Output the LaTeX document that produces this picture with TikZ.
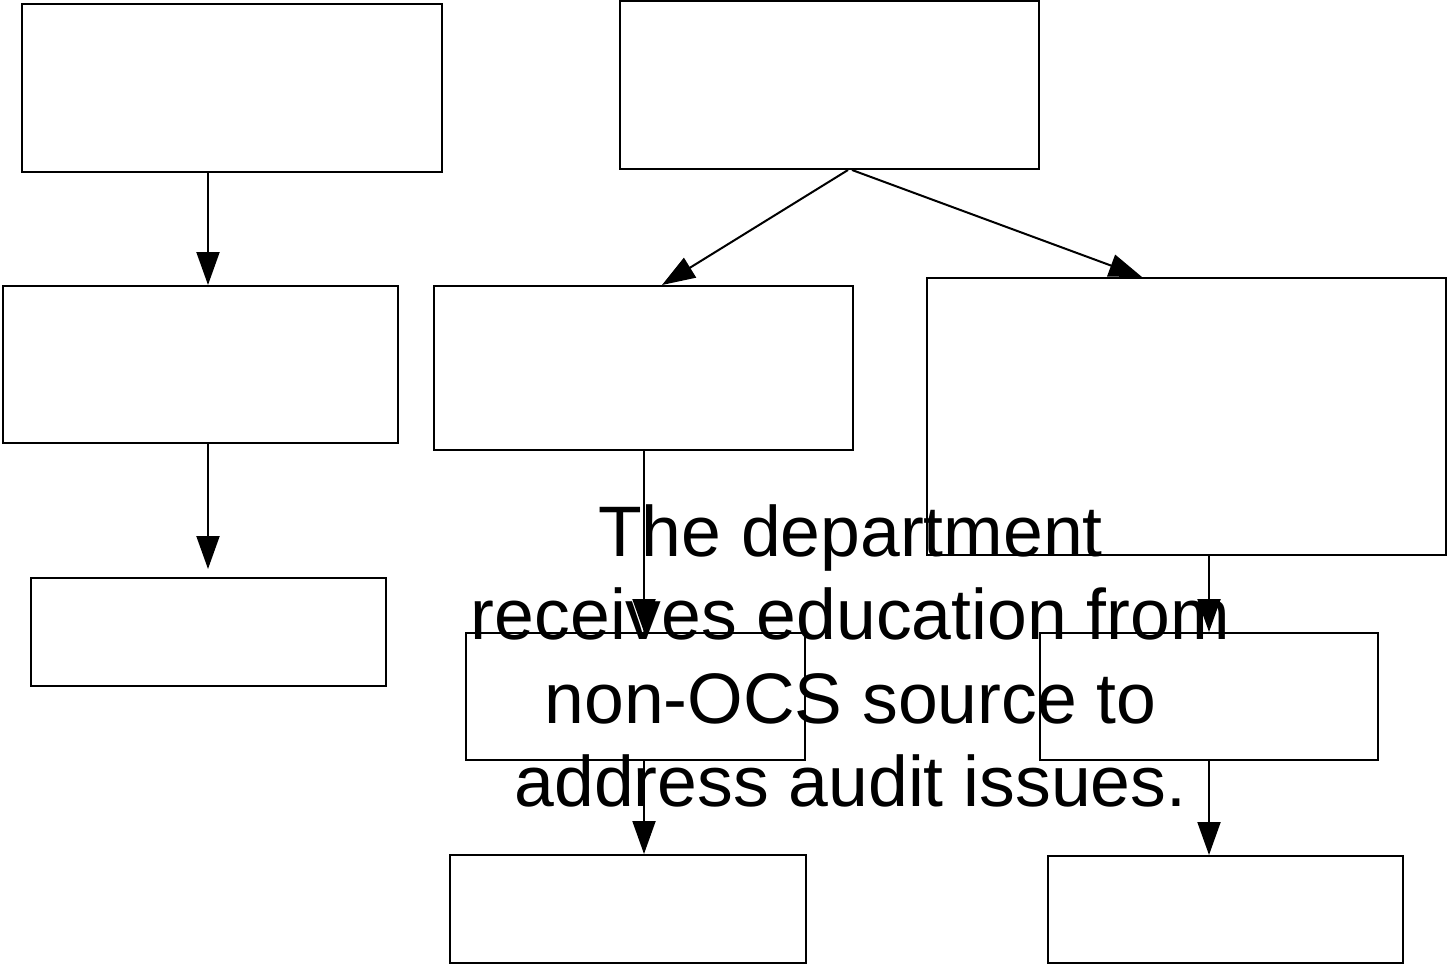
\documentclass[tikz,border=0pt]{standalone}
\usepackage{fontspec}
\setmainfont{Liberation Sans}
\usetikzlibrary{arrows.meta}
\begin{document}
\begin{tikzpicture}[x=1pt,y=-1pt,
  box/.style={draw=black, line width=2pt, rectangle, inner sep=0pt},
  arr/.style={draw=black, line width=2pt, -{Triangle[length=33pt,width=23pt]}},
  bigtext/.style={font=\fontsize{71.5}{83.5}\selectfont, align=center, inner sep=0pt}]
\useasboundingbox (0,0) rectangle (1447,969);
% boxes
\node[box, minimum width=420pt, minimum height=168pt] (b1) at (232,88) {};
\node[box, minimum width=419pt, minimum height=168pt] (b2) at (829.5,85) {};
\node[box, minimum width=395pt, minimum height=157pt] (b3) at (200.5,364.5) {};
\node[box, minimum width=419pt, minimum height=164pt] (b4) at (643.5,368) {};
\node[box, minimum width=519pt, minimum height=277pt] (b5) at (1186.5,416.5) {};
\node[box, minimum width=355pt, minimum height=108pt] (b6) at (208.5,632) {};
\node[box, minimum width=339pt, minimum height=127pt] (b7) at (635.5,696.5) {};
\node[box, minimum width=338pt, minimum height=127pt] (b8) at (1209,696.5) {};
\node[box, minimum width=356pt, minimum height=108pt] (b9) at (628,909) {};
\node[box, minimum width=355pt, minimum height=107pt] (b10) at (1225.5,909.5) {};
% helper coordinates
\coordinate (xa) at (208,0);
\coordinate (xb) at (644,0);
\coordinate (xc) at (1209,0);
\coordinate (s1) at (848,0);
\coordinate (s2) at (852,0);
\coordinate (t1) at (662,0);
\coordinate (t2) at (1142,0);
\coordinate (e1) at (208,569);
% connectors
\draw[arr] (b1.south -| xa) -- (b3.north -| xa);
\draw[arr] (b3.south -| xa) -- (e1);
\draw[arr] (b2.south -| s1) -- (b4.north -| t1);
\draw[arr] (b2.south -| s2) -- (b5.north -| t2);
\draw[arr] (b4.south -| xb) -- (b7.north -| xb);
\draw[arr] (b5.south -| xc) -- (b8.north -| xc);
\draw[arr] (b7.south -| xb) -- (b9.north -| xb);
\draw[arr] (b8.south -| xc) -- (b10.north -| xc);
% text
\node[bigtext, anchor=north] (txt) at (850.5,504) {The department\\receives education from\\non-OCS source to\\address audit issues.};
\end{tikzpicture}
\end{document}
